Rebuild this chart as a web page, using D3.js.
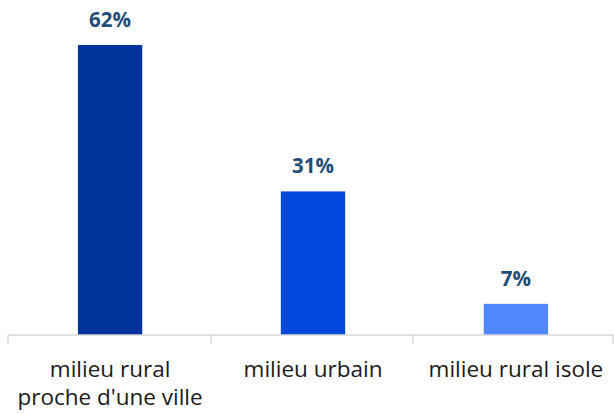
<!DOCTYPE html>
<html>
<head>
<meta charset="utf-8">
<script src="https://cdn.jsdelivr.net/npm/d3@7"></script>
<style>
  body { margin: 0; background: #fff; }
  text { font-family: "Open Sans", Lato, sans-serif; }
</style>
</head>
<body>
<svg id="chart" width="614" height="414"></svg>
<script>
const categories = ["milieu rural\nproche d'une ville", "milieu urbain", "milieu rural isole"];
const values = [62.4, 30.9, 6.7];
const valueLabels = ["62%", "31%", "7%"];
const colors = ["#003399", "#0047DC", "#4F88FF"];

const svg = d3.select("#chart");
const baseline = 335, plotTop = 45;

const x = d3.scaleBand()
    .domain(categories)
    .range([8.5, 617.5])
    .paddingInner(0.683)
    .paddingOuter(0.342);

const y = d3.scaleLinear()
    .domain([0, 62.4])
    .range([baseline, plotTop]);

// bars
svg.selectAll("rect.bar")
    .data(values)
    .enter().append("rect")
    .attr("class", "bar")
    .attr("x", (d, i) => x(categories[i]))
    .attr("y", d => y(d))
    .attr("width", x.bandwidth())
    .attr("height", d => baseline - y(d))
    .attr("fill", (d, i) => colors[i]);

// value labels
svg.selectAll("text.val")
    .data(values)
    .enter().append("text")
    .attr("class", "val")
    .attr("x", (d, i) => x(categories[i]) + x.bandwidth() / 2)
    .attr("y", d => y(d) - 18)
    .attr("text-anchor", "middle")
    .style("font-size", "20.5px")
    .style("font-weight", "bold")
    .style("fill", "#1F4E79")
    .text((d, i) => valueLabels[i]);

// axis line and separators
svg.append("line")
    .attr("x1", 8).attr("x2", 614)
    .attr("y1", baseline).attr("y2", baseline)
    .attr("stroke", "#d9d9d9").attr("stroke-width", 1.5);

const ticks = [8, 211, 413, 613];
svg.selectAll("line.tick")
    .data(ticks)
    .enter().append("line")
    .attr("class", "tick")
    .attr("x1", d => d).attr("x2", d => d)
    .attr("y1", baseline).attr("y2", baseline + 9)
    .attr("stroke", "#d9d9d9").attr("stroke-width", 1.5);

// category labels
categories.forEach((c, i) => {
  const t = svg.append("text")
      .attr("x", x(c) + x.bandwidth() / 2)
      .attr("y", 377)
      .attr("text-anchor", "middle")
      .style("font-size", "22.5px")
      .style("fill", "#1a1a1a");
  c.split("\n").forEach((line, j) => {
    t.append("tspan")
        .attr("x", x(c) + x.bandwidth() / 2)
        .attr("dy", j === 0 ? 0 : 28)
        .text(line);
  });
});
</script>
</body>
</html>
